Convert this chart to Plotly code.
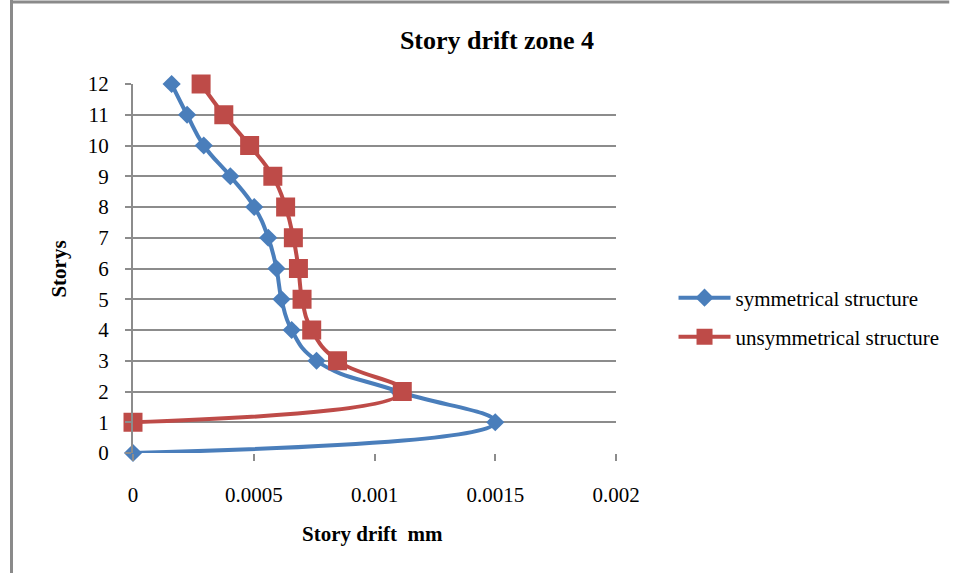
import plotly.graph_objects as go

# ---- data ----
stories_sym = [0, 1, 2, 3, 4, 5, 6, 7, 8, 9, 10, 11, 12]
drift_sym = [0, 0.00150, 0.00110, 0.000760, 0.000657, 0.000615, 0.000594,
             0.000560, 0.000502, 0.000403, 0.000293, 0.000224, 0.000160]
stories_unsym = [1, 2, 3, 4, 5, 6, 7, 8, 9, 10, 11, 12]
drift_unsym = [0, 0.001115, 0.000847, 0.000740, 0.000700, 0.000685,
               0.000664, 0.000632, 0.000579, 0.000483, 0.000376, 0.000282]
x_tickvals = [0, 0.0005, 0.001, 0.0015, 0.002]
x_ticktext = ["0", "0.0005", "0.001", "0.0015", "0.002"]
y_tickvals = list(range(0, 13))

W, H = 956, 573
L, R, T, B = 133, 620, 84, 453

def px_x(p):
    return (p - L) / (R - L)

def px_y(p):
    return (B - p) / (B - T)

FONT = "Liberation Serif, Times New Roman, serif"
BLUE = "#4A7EBB"
RED = "#BE4B48"
GRID = "#8C8C8C"

fig = go.Figure()
fig.add_trace(go.Scatter(
    x=drift_sym, y=stories_sym, name="symmetrical structure",
    mode="lines+markers", cliponaxis=False,
    line=dict(color=BLUE, width=4, shape="spline", smoothing=1.3),
    marker=dict(symbol="diamond", size=14, color=BLUE),
    legend="legend",
))
fig.add_trace(go.Scatter(
    x=drift_unsym, y=stories_unsym, name="unsymmetrical structure",
    mode="lines+markers", cliponaxis=False,
    line=dict(color=RED, width=4, shape="spline", smoothing=1.3),
    marker=dict(symbol="square", size=19, color=RED),
    legend="legend2",
))

fig.update_layout(
    width=W, height=H,
    margin=dict(l=L, r=W - R, t=T, b=H - B, pad=0),
    paper_bgcolor="white", plot_bgcolor="white",
    font=dict(family=FONT, size=21, color="black"),
    title=dict(text="<b>Story drift zone 4</b>", xref="container", yref="container",
               x=497 / W, y=1 - 40 / H, xanchor="center", yanchor="middle",
               font=dict(family=FONT, size=26, color="black")),
    xaxis=dict(range=[0, 0.002], tickvals=x_tickvals, ticktext=x_ticktext,
               showgrid=False, zeroline=False, showline=False,
               ticks="outside", ticklen=7, tickwidth=2, tickcolor=GRID,
               ticklabelstandoff=16, fixedrange=True),
    yaxis=dict(range=[0, 12], tickvals=y_tickvals,
               showgrid=True, gridcolor=GRID, gridwidth=2,
               zeroline=False, showline=True, linecolor=GRID, linewidth=2,
               ticks="outside", ticklen=6, tickwidth=2, tickcolor=GRID,
               ticklabelstandoff=12, fixedrange=True),
    legend=dict(x=px_x(678), y=px_y(298), xanchor="left", yanchor="middle",
                bgcolor="rgba(0,0,0,0)", borderwidth=0, itemwidth=52,
                font=dict(family=FONT, size=21)),
    legend2=dict(x=px_x(678), y=px_y(337), xanchor="left", yanchor="middle",
                 bgcolor="rgba(0,0,0,0)", borderwidth=0, itemwidth=52,
                 font=dict(family=FONT, size=21)),
    showlegend=True,
)

fig.add_annotation(text="<b>Story drift\u00a0 mm</b>", xref="paper", yref="paper",
                   x=px_x(374), y=px_y(534), xanchor="center", yanchor="middle",
                   showarrow=False, font=dict(family=FONT, size=21))
fig.add_annotation(text="<b>Storys</b>", xref="paper", yref="paper",
                   x=px_x(58), y=px_y(269), xanchor="center", yanchor="middle",
                   textangle=-90, showarrow=False, font=dict(family=FONT, size=21))

# outer chart border (top and left edges visible)
fig.add_shape(type="line", xref="paper", yref="paper",
              x0=px_x(10.5), x1=px_x(10.5), y0=px_y(0), y1=px_y(H),
              line=dict(color="#8A8A8A", width=3))
fig.add_shape(type="line", xref="paper", yref="paper",
              x0=px_x(9), x1=px_x(W), y0=px_y(2), y1=px_y(2),
              line=dict(color="#8A8A8A", width=3))

fig.write_html("out.html")
